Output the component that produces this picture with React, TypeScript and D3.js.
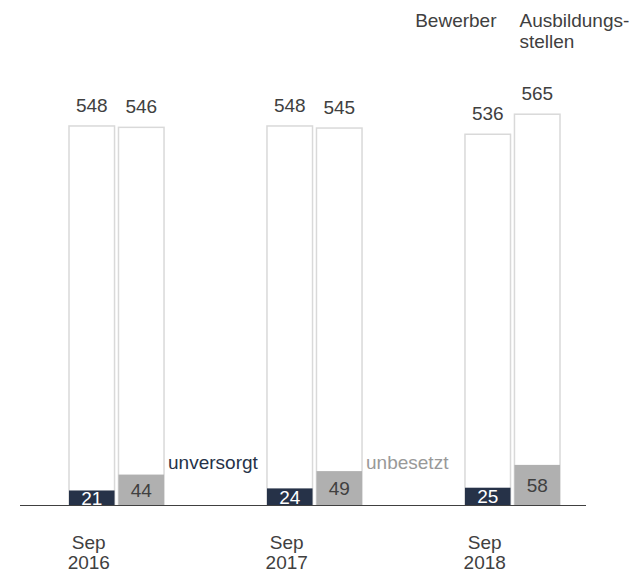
import { useMemo } from "react";
import * as d3 from "d3";

const periods = ["Sep 2016", "Sep 2017", "Sep 2018"];
const series = ["Bewerber", "Ausbildungsstellen"];
const totalBewerber = [548, 548, 536];
const totalStellen = [546, 545, 565];
const unversorgt = [21, 24, 25];
const unbesetzt = [44, 49, 58];

const WIDTH = 634;
const HEIGHT = 574;
const BASE = 505;
const FONT = "'Liberation Sans', Arial, sans-serif";
const FS = 19;
const NAVY = "#263248";
const GREY = "#b0b0b0";

export default function App() {
  const x = useMemo(
    () => d3.scaleBand<string>().domain(periods).range([69, 560]).paddingInner(0.52).paddingOuter(0),
    []
  );
  const xi = useMemo(
    () => d3.scaleBand<string>().domain(series).range([0, x.bandwidth()]).paddingInner(0.08),
    [x]
  );
  const y = d3.scaleLinear().domain([0, 600]).range([BASE, BASE - 415]);

  const rows = periods.map((p, i) => ({
    p,
    bars: [
      { s: series[0], total: totalBewerber[i], part: unversorgt[i], fill: NAVY, txt: "#fff" },
      { s: series[1], total: totalStellen[i], part: unbesetzt[i], fill: GREY, txt: "#404040" },
    ],
  }));

  const bw = xi.bandwidth();
  const lastX = x(periods[2])!;

  return (
    <svg width={WIDTH} height={HEIGHT} style={{ position: "absolute", left: 0, top: 0 }} fontFamily={FONT}>
      <rect width={WIDTH} height={HEIGHT} fill="#fff" />
      {rows.map((r) => {
        const gx = x(r.p)!;
        const [mon, yr] = r.p.split(" ");
        const cx = gx + bw / 2 - 3;
        return (
          <g key={r.p}>
            {r.bars.map((b) => {
              const bx = gx + xi(b.s)!;
              const top = y(b.total);
              const ptop = y(b.part);
              return (
                <g key={b.s}>
                  <rect x={bx} y={top} width={bw} height={BASE - top} fill="#fff" stroke="#d9d9d9" strokeWidth={1.5} />
                  <rect x={bx} y={ptop} width={bw} height={BASE - ptop} fill={b.fill} />
                  <text x={bx + bw / 2} y={top - 14} textAnchor="middle" fontSize={FS} fill="#404040">
                    {b.total}
                  </text>
                  <text x={bx + bw / 2} y={(ptop + BASE) / 2 + 7} textAnchor="middle" fontSize={FS} fill={b.txt}>
                    {b.part}
                  </text>
                </g>
              );
            })}
            <text x={cx} y={549} textAnchor="middle" fontSize={FS} fill="#404040">{mon}</text>
            <text x={cx} y={569} textAnchor="middle" fontSize={FS} fill="#404040">{yr}</text>
          </g>
        );
      })}
      <line x1={20} x2={586} y1={BASE + 0.5} y2={BASE + 0.5} stroke="#404040" strokeWidth={1.2} />
      <text x={x(periods[0])! + x.bandwidth() + 4} y={469} fontSize={FS} fill={NAVY}>unversorgt</text>
      <text x={x(periods[1])! + x.bandwidth() + 4} y={469} fontSize={FS} fill="#999">unbesetzt</text>
      <text x={lastX + bw - 14} y={27} textAnchor="end" fontSize={FS} fill="#404040">Bewerber</text>
      <text x={lastX + xi(series[1])! + 5} y={27} fontSize={FS} fill="#404040">Ausbildungs-</text>
      <text x={lastX + xi(series[1])! + 5} y={48} fontSize={FS} fill="#404040">stellen</text>
    </svg>
  );
}
